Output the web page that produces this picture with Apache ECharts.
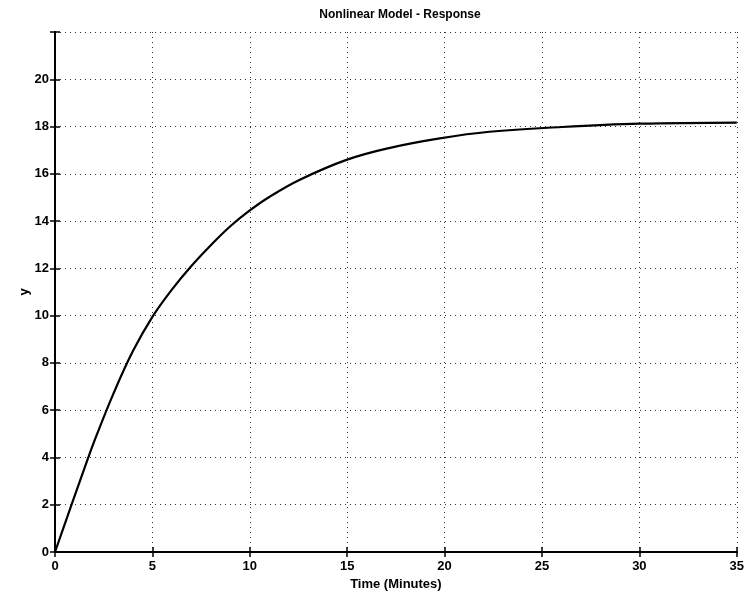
<!DOCTYPE html>
<html>
<head>
<meta charset="utf-8">
<script src="https://cdn.jsdelivr.net/npm/echarts@6/dist/echarts.min.js"></script>
<style>html,body{margin:0;padding:0;background:#fff;}#c{width:747px;height:603px;}</style>
</head>
<body>
<div id="c"></div>
<script>
var titleText = 'Nonlinear Model - Response';
var xName = 'Time (Minutes)';
var yName = 'y';
var timeValues = [0, 0.85, 1.71, 2, 3, 4, 5, 6, 7, 8, 9, 10, 11, 12.57, 15, 17.2, 19.75, 22.3, 26, 30, 35];
var yValues =    [0, 2.0, 4.0, 4.65, 6.7, 8.5, 9.95, 11.1, 12.1, 12.98, 13.78, 14.45, 15.02, 15.75, 16.6, 17.1, 17.5, 17.78, 17.98, 18.12, 18.17];

var data = timeValues.map(function (t, i) { return [t, yValues[i]]; });
var font = 'Liberation Sans, Arial, sans-serif';
var chart = echarts.init(document.getElementById('c'), null, {renderer: 'canvas'});
var gridLine = {show: true, lineStyle: {color: '#333', type: [1, 4], width: 1}};
chart.setOption({
  backgroundColor: '#fff',
  animation: false,
  title: {text: titleText, left: 395, top: 4, textAlign: 'center',
    textStyle: {fontFamily: font, fontSize: 12, fontWeight: 'bold', color: '#000'}},
  grid: {left: 55, right: 10, top: 32, bottom: 51, containLabel: false},
  xAxis: [{
    type: 'value', min: 0, max: 35, interval: 5,
    name: xName, nameLocation: 'middle', nameGap: 26,
    nameTextStyle: {fontFamily: font, fontSize: 13, fontWeight: 'bold', color: '#000'},
    axisLine: {lineStyle: {color: '#000', width: 2}},
    axisTick: {inside: true, length: 5, lineStyle: {color: '#000', width: 1.5}},
    axisLabel: {fontFamily: font, fontSize: 13, fontWeight: 'bold', color: '#000', margin: 8},
    splitLine: gridLine
  }, {
    type: 'value', position: 'top', min: 0, max: 35, interval: 5,
    axisLine: {lineStyle: {color: '#000', width: 2}},
    axisTick: {inside: true, length: 5, lineStyle: {color: '#000', width: 1.5}},
    axisLabel: {show: false}, splitLine: {show: false}
  }],
  yAxis: [{
    type: 'value', min: 0, max: 22, interval: 2,
    name: yName, nameLocation: 'middle', nameGap: 24, nameRotate: 90, nameMoveOverlap: false,
    nameTextStyle: {fontFamily: font, fontSize: 13, fontWeight: 'bold', color: '#000'},
    axisLine: {lineStyle: {color: '#000', width: 2}},
    axisTick: {inside: true, length: 5, lineStyle: {color: '#000', width: 1.5}},
    axisLabel: {fontFamily: font, fontSize: 13, fontWeight: 'bold', color: '#000', margin: 6,
      formatter: function (v) { return v === 22 ? '' : String(v); }},
    splitLine: {show: true, lineStyle: {color: '#333', type: [1, 4], width: 1}}
  }, {
    type: 'value', position: 'right', min: 0, max: 22, interval: 2,
    axisLine: {show: true, lineStyle: {color: '#000', width: 2}},
    axisTick: {show: true, inside: true, length: 5, lineStyle: {color: '#000', width: 1.5}},
    axisLabel: {show: false}, splitLine: {show: false}
  }],
  series: [{
    type: 'line', data: data, xAxisIndex: 0, yAxisIndex: 0,
    smooth: 0.4, showSymbol: false, symbol: 'none',
    lineStyle: {color: '#000', width: 2.2}
  }]
});
</script>
</body>
</html>
